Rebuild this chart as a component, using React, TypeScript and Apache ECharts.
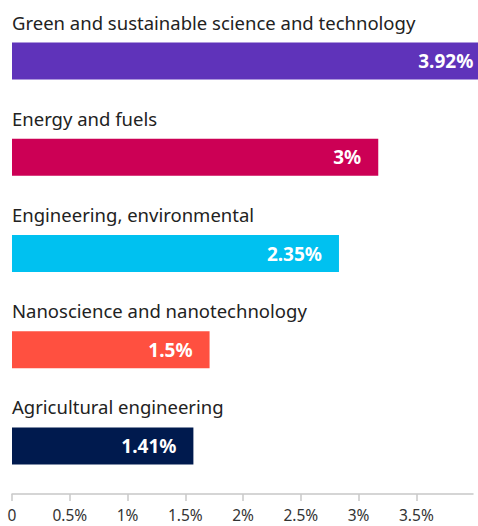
import React, { useEffect, useRef } from "react";
import * as echarts from "echarts";

const categories = [
  "Green and sustainable science and technology",
  "Energy and fuels",
  "Engineering, environmental",
  "Nanoscience and nanotechnology",
  "Agricultural engineering",
];
// bar lengths as drawn against the axis
const barValues = [4.14, 3.17, 2.83, 1.71, 1.57];
// printed labels
const valueLabels = ["3.92%", "3%", "2.35%", "1.5%", "1.41%"];
const colors = ["#5f33ba", "#cc0055", "#00c1f0", "#ff5040", "#001a4e"];
const tickValues = [0, 0.5, 1, 1.5, 2, 2.5, 3, 3.5];

export default function App() {
  const ref = useRef<HTMLDivElement>(null);
  useEffect(() => {
    if (!ref.current) return;
    const chart = echarts.init(ref.current, null, { renderer: "svg" });
    const font = "Noto Sans";
    chart.setOption({
      animation: false,
      grid: { left: 12, right: 5, top: 13, bottom: 32, containLabel: false },
      xAxis: {
        type: "value",
        min: 0,
        max: 3.99,
        interval: 0.5,
        axisLine: { show: true, lineStyle: { color: "#c8c8c8", width: 1.5 } },
        axisTick: { show: true, length: 7, lineStyle: { color: "#c8c8c8", width: 1.5 } },
        splitLine: { show: false },
        axisLabel: {
          margin: 12,
          fontSize: 15.5,
          lineHeight: 17,
          fontFamily: font,
          color: "#333",
          showMaxLabel: false,
          formatter: (v: number) =>
            tickValues.includes(v) ? (v === 0 ? "0" : `${v}%`) : "",
        },
      },
      yAxis: {
        type: "category",
        inverse: true,
        data: categories,
        axisLine: { show: false },
        axisTick: { show: false },
        axisLabel: {
          inside: true,
          margin: 0,
          interval: 0,
          showMinLabel: true,
          showMaxLabel: true,
          hideOverlap: false,
          align: "left",
          verticalAlign: "middle",
          formatter: (v: string) => `{t|${v}}\n{s|}`,
          rich: {
            t: {
              fontSize: 18.5,
              fontFamily: font,
              color: "#222",
              height: 20,
              lineHeight: 20,
            },
            s: { height: 78, lineHeight: 78 },
          },
        },
        z: 10,
      },
      series: [
        {
          type: "bar",
          clip: false,
          barWidth: 37,
          data: barValues.map((v, i) => ({
            value: v,
            itemStyle: { color: colors[i] },
          })),
          label: {
            show: true,
            position: "insideRight",
            distance: 17,
            color: "#fff",
            fontWeight: "bold",
            fontSize: 19,
            fontFamily: font,
            formatter: (p: any) => valueLabels[p.dataIndex],
          },
        },
      ],
    });
    return () => chart.dispose();
  }, []);
  return (
    <div
      ref={ref}
      style={{ position: "absolute", left: 0, top: 0, width: 478, height: 526 }}
    />
  );
}
